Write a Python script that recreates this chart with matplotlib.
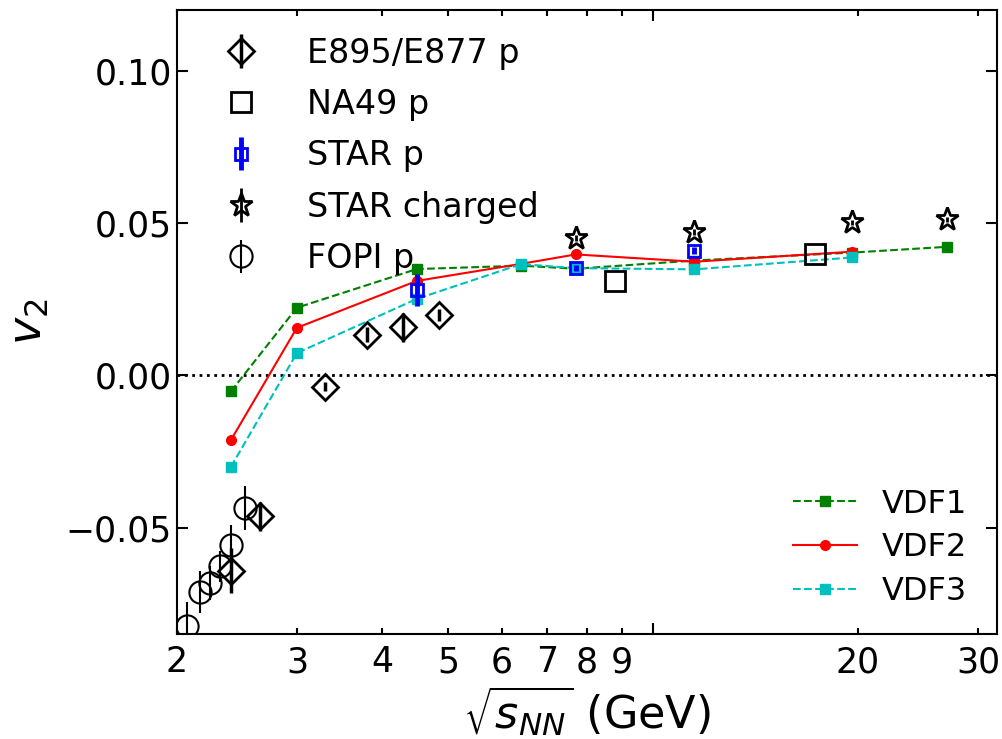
import matplotlib
matplotlib.use('Agg')
import matplotlib.pyplot as plt
from matplotlib.ticker import FixedLocator, FixedFormatter, NullFormatter, MultipleLocator

# model curves
vdf_x = [2.4, 3.0, 4.5, 6.4, 7.7, 11.5, 19.6, 27.0]
vdf1 = [-0.0053, 0.0222, 0.0349, 0.0360, 0.0350, 0.0377, 0.0403, 0.0422]
vdf2 = [-0.0213, 0.0156, 0.0310, 0.0366, 0.0397, 0.0373, 0.0406]
vdf3 = [-0.0301, 0.0073, 0.0251, 0.0365, 0.0352, 0.0348, 0.0387]

# data
e895_x = [2.4, 2.65, 3.3, 3.8, 4.3, 4.85]
e895_v2 = [-0.0642, -0.0463, -0.0037, 0.0133, 0.0158, 0.0199]
e895_err = [0.0074, 0.0048, 0.0015, 0.0025, 0.0048, 0.002]

na49_x = [8.8, 17.3]
na49_v2 = [0.0309, 0.0400]

starp_x = [4.5, 7.7, 11.5]
starp_v2 = [0.0279, 0.0352, 0.0409]
starp_err = [0.0053, 0.001, 0.0012]

starch_x = [7.7, 11.5, 19.6, 27.0]
starch_v2 = [0.0450, 0.0470, 0.0503, 0.0513]
starch_err = [0.001, 0.001, 0.0008, 0.0008]

fopi_x = [2.07, 2.16, 2.24, 2.31, 2.40, 2.52]
fopi_v2 = [-0.0822, -0.0713, -0.0683, -0.0628, -0.0556, -0.0437]
fopi_err = [0.0077, 0.0069, 0.0056, 0.005, 0.0065, 0.0072]

xticks_lab = [2, 3, 4, 5, 6, 7, 8, 9, 20, 30]

fig = plt.figure(figsize=(10.02, 7.39), dpi=100)
ax = fig.add_axes([0.1766, 0.142, 0.8184, 0.8445])

ax.axhline(0, color='k', ls=':', lw=2)

l1, = ax.plot(vdf_x, vdf1, '--s', color='green', ms=7, lw=1.5, label='VDF1')
l2, = ax.plot(vdf_x[:7], vdf2, '-o', color='red', ms=7, lw=1.5, label='VDF2')
l3, = ax.plot(vdf_x[:7], vdf3, '--s', color='c', ms=7, lw=1.5, label='VDF3')

h1 = ax.errorbar(e895_x, e895_v2, yerr=e895_err, fmt='D', color='k', mfc='none',
                 ms=13, mew=2, elinewidth=2.5, label='E895/E877 p')
h2, = ax.plot(na49_x, na49_v2, 's', color='k', mfc='none', ms=14, mew=2, label='NA49 p')
h3 = ax.errorbar(starp_x, starp_v2, yerr=starp_err, fmt='s', color='blue', mfc='none',
                 ms=9, mew=2, elinewidth=3.5, label='STAR p')
h4 = ax.errorbar(starch_x, starch_v2, yerr=starch_err, fmt='*', color='k', mfc='none',
                 ms=17, mew=2, elinewidth=2, label='STAR charged')
h5 = ax.errorbar(fopi_x, fopi_v2, yerr=fopi_err, fmt='o', color='k', mfc='none',
                 ms=16, mew=1.5, elinewidth=1.5, label='FOPI p')

ax.set_xscale('log')
ax.set_xlim(2, 32)
ax.set_ylim(-0.085, 0.12)
ax.xaxis.set_major_locator(FixedLocator([10]))
ax.xaxis.set_major_formatter(NullFormatter())
ax.xaxis.set_minor_locator(FixedLocator(xticks_lab))
ax.xaxis.set_minor_formatter(FixedFormatter([str(v) for v in xticks_lab]))
ax.yaxis.set_major_locator(MultipleLocator(0.05))

ax.tick_params(which='both', direction='in', top=True, right=True, labelsize=25, width=1.5)
ax.tick_params(which='major', length=8)
ax.tick_params(which='minor', length=4, pad=8)
for s in ax.spines.values():
    s.set_linewidth(1.5)

ax.set_xlabel(r'$\sqrt{s_{NN}}$ (GeV)', fontsize=32, labelpad=4)
ax.set_ylabel(r'$v_2$', fontsize=33, labelpad=10)

leg1 = ax.legend([h1, h2, h3, h4, h5],
                 ['E895/E877 p', 'NA49 p', 'STAR p', 'STAR charged', 'FOPI p'],
                 loc='upper left', frameon=False, fontsize=24, labelspacing=0.55,
                 handletextpad=1.0, borderpad=0, borderaxespad=0,
                 bbox_to_anchor=(0.037, 0.957))
ax.add_artist(leg1)
ax.legend([l1, l2, l3], ['VDF1', 'VDF2', 'VDF3'], loc='lower right',
          frameon=False, fontsize=23, labelspacing=0.4, handletextpad=0.8,
          borderpad=0, borderaxespad=0, bbox_to_anchor=(0.964, 0.043))

fig.savefig('out.png', dpi=100)
